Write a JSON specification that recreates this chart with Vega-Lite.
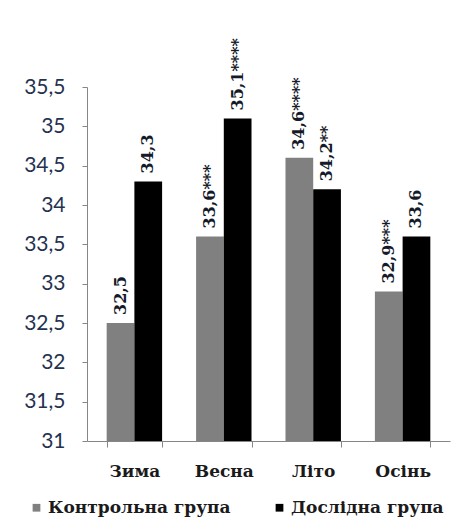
{
  "$schema": "https://vega.github.io/schema/vega-lite/v6.json",
  "autosize": {"type": "none"},
  "padding": {"left": 87, "top": 87, "right": 20, "bottom": 84},
  "width": 363,
  "height": 354,
  "background": "white",
  "data": {"values": [
    {"season": "Зима", "group": "Контрольна група", "value": 32.5, "label": "32,5"},
    {"season": "Зима", "group": "Дослідна група", "value": 34.3, "label": "34,3"},
    {"season": "Весна", "group": "Контрольна група", "value": 33.6, "label": "33,6***"},
    {"season": "Весна", "group": "Дослідна група", "value": 35.1, "label": "35,1****"},
    {"season": "Літо", "group": "Контрольна група", "value": 34.6, "label": "34,6****"},
    {"season": "Літо", "group": "Дослідна група", "value": 34.2, "label": "34,2**"},
    {"season": "Осінь", "group": "Контрольна група", "value": 32.9, "label": "32,9***"},
    {"season": "Осінь", "group": "Дослідна група", "value": 33.6, "label": "33,6"}
  ]},
  "encoding": {
    "x": {
      "field": "season", "type": "nominal",
      "sort": ["Зима", "Весна", "Літо", "Осінь"],
      "scale": {"paddingInner": 0.38, "paddingOuter": 0.22},
      "axis": {
        "title": null, "labelAngle": 0, "tickBand": "extent", "labelOverlap": false,
        "domainColor": "#868686", "tickColor": "#868686", "tickSize": 6,
        "labelFont": "DejaVu Serif", "labelFontWeight": "bold", "labelFontSize": 17,
        "labelColor": "#1a1a1a", "labelPadding": 16, "labelBaseline": "top"
      }
    },
    "xOffset": {"field": "group", "type": "nominal", "sort": ["Контрольна група", "Дослідна група"]},
    "y": {
      "field": "value", "type": "quantitative",
      "scale": {"domain": [31, 35.5], "zero": false, "nice": false},
      "axis": {
        "title": null, "grid": false,
        "values": [31, 31.5, 32, 32.5, 33, 33.5, 34, 34.5, 35, 35.5],
        "labelExpr": "replace(format(datum.value, '~g'), '.', ',')",
        "domainColor": "#868686", "tickColor": "#868686", "tickSize": 5,
        "labelFont": "Lato", "labelFontSize": 21, "labelColor": "#25324f", "labelPadding": 17
      }
    }
  },
  "layer": [
    {
      "mark": {"type": "bar", "clip": true},
      "encoding": {
        "y2": {"datum": 31},
        "color": {
          "field": "group", "type": "nominal",
          "scale": {"domain": ["Контрольна група", "Дослідна група"], "range": ["#808080", "#000000"]},
          "legend": {
            "title": null, "orient": "none", "direction": "horizontal",
            "legendX": -59, "legendY": 412, "labelLimit": 400,
            "symbolType": "square", "symbolSize": 60, "symbolStrokeWidth": 0,
            "labelFont": "DejaVu Serif", "labelFontWeight": "bold", "labelFontSize": 17,
            "labelColor": "#1a1a1a", "columnPadding": 40, "labelOffset": 3
          }
        }
      }
    },
    {
      "mark": {"type": "text", "angle": 270, "align": "left", "baseline": "middle", "dx": 8,
               "font": "DejaVu Serif", "fontWeight": "bold", "fontSize": 16, "color": "#141a2a"},
      "encoding": {"text": {"field": "label"}}
    }
  ],
  "config": {"view": {"stroke": null}}
}
